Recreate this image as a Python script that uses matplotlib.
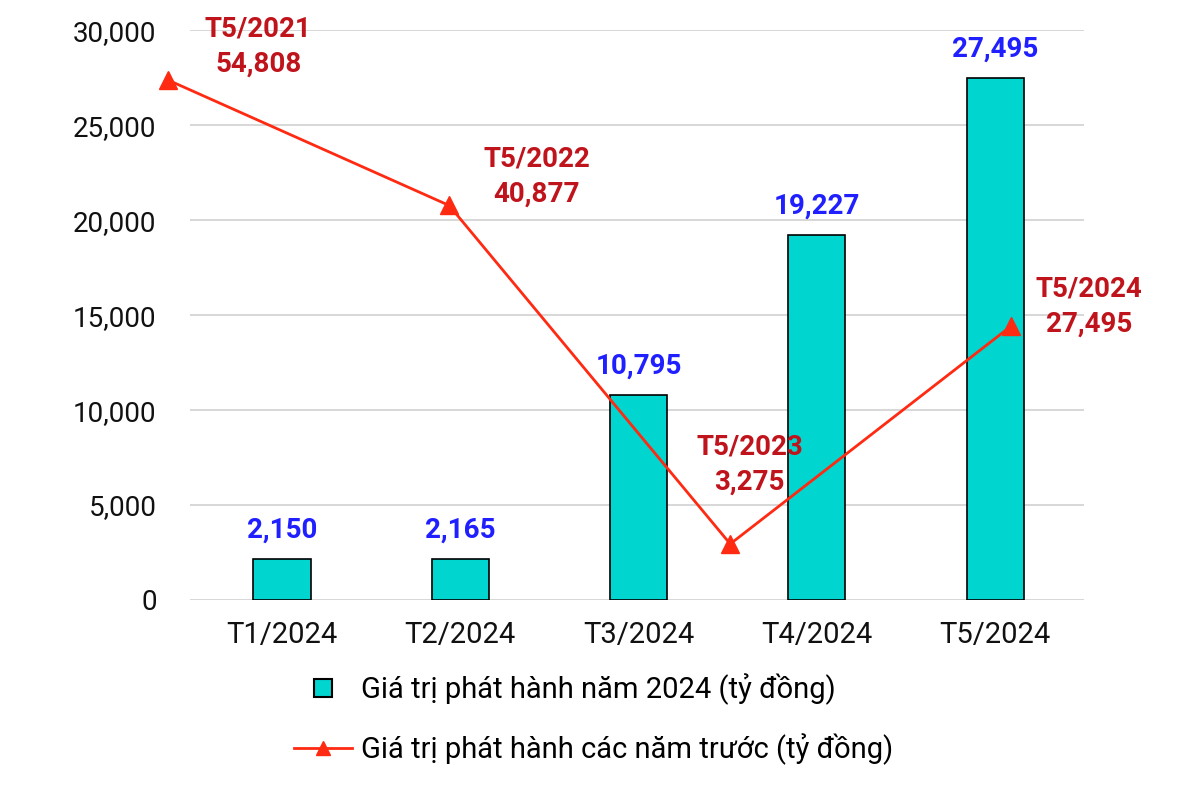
import matplotlib.pyplot as plt
from matplotlib.lines import Line2D

plt.rcParams['font.family'] = ['Roboto', 'DejaVu Sans']

# du lieu
months = ['T1/2024', 'T2/2024', 'T3/2024', 'T4/2024', 'T5/2024']
values_2024 = [2150, 2165, 10795, 19227, 27495]
prev_labels = ['T5/2021', 'T5/2022', 'T5/2023', 'T5/2024']
prev_values = [54808, 40877, 3275, 27495]

bar_color = '#00D5CF'
line_color = '#FF2A12'
red_text = '#C0141C'
blue_text = '#1F1FFF'

fig = plt.figure(figsize=(11.8, 7.93), dpi=100)
ax = fig.add_axes([0.161, 0.2434, 0.758, 0.7186])

x = range(len(months))
ax.bar(x, values_2024, width=0.32, color=bar_color, edgecolor='black', linewidth=1.2, zorder=3)
for i, v in enumerate(values_2024):
    ax.annotate(f'{v:,}', (i, v), xytext=(0, 11), textcoords='offset points',
                ha='center', va='bottom', color=blue_text, fontsize=20, fontweight='bold')

ax.set_xlim(-0.516, 4.5)
ax.set_ylim(0, 30000)
ax.set_yticks(range(0, 30001, 5000))
ax.set_yticklabels([f'{t:,}' for t in range(0, 30001, 5000)])
ax.set_xticks(list(x))
ax.set_xticklabels(months)
ax.tick_params(axis='both', length=0, labelsize=20, colors='#111111')
ax.tick_params(axis='x', labelsize=21, pad=15)
ax.tick_params(axis='y', pad=24)
ax.grid(axis='y', color='#D4D4D4', linewidth=1.3, zorder=0)
for s in ax.spines.values():
    s.set_visible(False)

# truc phu cho duong cac nam truoc
ax2 = fig.add_axes(ax.get_position(), frameon=False)
ax2.plot(range(len(prev_values)), prev_values, color=line_color, linewidth=2,
         marker='^', markersize=13, clip_on=False, zorder=4)
ax2.set_xlim(0.078, 3.26)
ax2.set_ylim(-2950, 60355)
ax2.set_xticks([])
ax2.set_yticks([])

offsets = [(65, 24), (63, 21), (14, 57), (56, 14)]
for i, (lab, v) in enumerate(zip(prev_labels, prev_values)):
    ax2.annotate(f'{lab}\n{v:,}', (i, v), xytext=offsets[i], textcoords='offset points',
                 ha='center', va='center', color=red_text, fontsize=20,
                 fontweight='bold', linespacing=1.4, annotation_clip=False)

handles = [
    Line2D([], [], linestyle='none', marker='s', markersize=13,
           markerfacecolor=bar_color, markeredgecolor='black', markeredgewidth=1.5),
    Line2D([], [], color=line_color, linewidth=2, marker='^', markersize=10),
]
labels = ['Giá trị phát hành năm 2024 (tỷ đồng)', 'Giá trị phát hành các năm trước (tỷ đồng)']
fig.legend(handles, labels, loc='center', bbox_to_anchor=(0.503, 0.093), frameon=False,
           fontsize=21, labelspacing=0.95, handlelength=2.0, handletextpad=0.3)

fig.savefig('out.png', dpi=100, facecolor='white')
